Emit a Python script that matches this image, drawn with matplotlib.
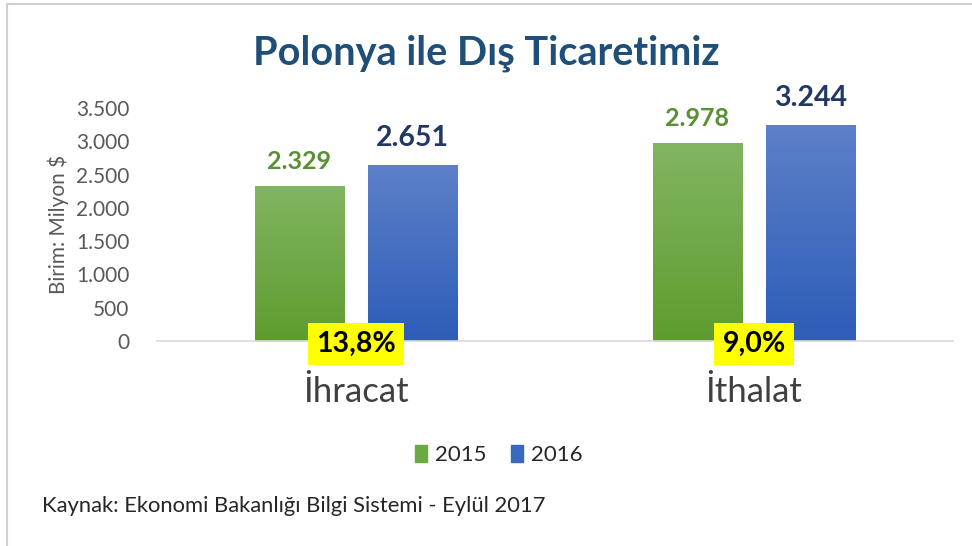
import matplotlib
matplotlib.use("Agg")
import matplotlib.pyplot as plt
import numpy as np
from matplotlib.patches import Patch
from matplotlib.lines import Line2D

categories = ["İhracat", "İthalat"]
years = ["2015", "2016"]
values_2015 = [2329, 2978]
values_2016 = [2651, 3244]
value_labels_2015 = ["2.329", "2.978"]
value_labels_2016 = ["2.651", "3.244"]
change_labels = ["13,8%", "9,0%"]
yticks = [0, 500, 1000, 1500, 2000, 2500, 3000, 3500]
ytick_labels = ["0", "500", "1.000", "1.500", "2.000", "2.500", "3.000", "3.500"]

FONT = "Lato"
W, H = 972, 546
fig = plt.figure(figsize=(W / 100, H / 100), dpi=100)
fig.patch.set_facecolor("white")

ax = fig.add_axes([157 / W, 205 / H, (953 - 157) / W, 233 / H])

x = np.arange(len(categories))
bw = 0.224
off = 0.142

green_top, green_bot = "#82b562", "#5e9c2e"
blue_top, blue_bot = "#5d80c9", "#2d5db8"


def grad_bars(bars, top, bot):
    c1 = np.array(matplotlib.colors.to_rgb(top))
    c2 = np.array(matplotlib.colors.to_rgb(bot))
    t = np.linspace(0, 1, 256)[:, None]
    img = (c1 * (1 - t) + c2 * t)[:, None, :]
    for b in bars:
        x0, y0 = b.get_x(), b.get_y()
        w, h = b.get_width(), b.get_height()
        im = ax.imshow(img, extent=[x0, x0 + w, y0, y0 + h], aspect="auto",
                       origin="upper", zorder=2)
        im.set_clip_path(b)


b1 = ax.bar(x - off, values_2015, bw, color=green_bot, zorder=1, linewidth=0)
b2 = ax.bar(x + off, values_2016, bw, color=blue_bot, zorder=1, linewidth=0)
grad_bars(b1, green_top, green_bot)
grad_bars(b2, blue_top, blue_bot)
ax.set_xlim(-0.5, 1.5)
ax.set_ylim(0, 3500)

for i in range(len(categories)):
    ax.annotate(value_labels_2015[i], (x[i] - off, values_2015[i]), xytext=(0, 9),
                textcoords="offset points", ha="center", va="bottom",
                fontsize=18, fontweight="bold", color="#5b8f35", family=FONT)
    ax.annotate(value_labels_2016[i], (x[i] + off, values_2016[i]), xytext=(0, 10),
                textcoords="offset points", ha="center", va="bottom",
                fontsize=20.5, fontweight="bold", color="#1f3864", family=FONT)
    ax.annotate(change_labels[i], (x[i], 0), xytext=(0, -2), textcoords="offset points",
                ha="center", va="center", fontsize=20.5,
                fontweight="bold", color="black", family=FONT, zorder=5,
                bbox=dict(boxstyle="square,pad=0.28", fc="#ffff00", ec="none"))

for s in ["top", "right", "left"]:
    ax.spines[s].set_visible(False)
ax.spines["bottom"].set_color("#d9d9d9")
ax.spines["bottom"].set_linewidth(1.2)

ax.set_yticks(yticks)
ax.set_yticklabels(ytick_labels, family=FONT, fontsize=15, color="#595959")
ax.tick_params(axis="y", length=0, pad=20)
ax.set_xticks(x)
ax.set_xticklabels(categories, family=FONT, fontsize=25, color="#404040")
ax.tick_params(axis="x", length=0, pad=25)

ax.set_ylabel("Birim: Milyon $", family=FONT, fontsize=15, color="#595959", labelpad=5)

fig.text(486 / W, 1 - 53 / H, "Polonya ile Dış Ticaretimiz", ha="center", va="center",
         fontsize=28.5, fontweight="bold", color="#1f4e79", family=FONT)

handles = [Patch(color="#6aaa40"), Patch(color="#3a68c0")]
leg = fig.legend(handles, years, loc="center", bbox_to_anchor=(499 / W, 1 - 455 / H),
                 ncol=2, frameon=False, prop={"family": FONT, "size": 16},
                 handlelength=0.55, handleheight=0.8, handletextpad=0.35, columnspacing=1.1)
for t in leg.get_texts():
    t.set_color("#262626")

fig.text(42 / W, 1 - 506 / H, "Kaynak: Ekonomi Bakanlığı Bilgi Sistemi - Eylül 2017",
         ha="left", va="center", fontsize=15.8, color="#262626", family=FONT)

fig.add_artist(Line2D([7 / W, 1], [1 - 4 / H, 1 - 4 / H], color="#d0d0d0", lw=1.5,
                      transform=fig.transFigure))
fig.add_artist(Line2D([7 / W, 7 / W], [0, 1 - 4 / H], color="#d0d0d0", lw=1.5,
                      transform=fig.transFigure))

fig.savefig("out.png", dpi=100)
